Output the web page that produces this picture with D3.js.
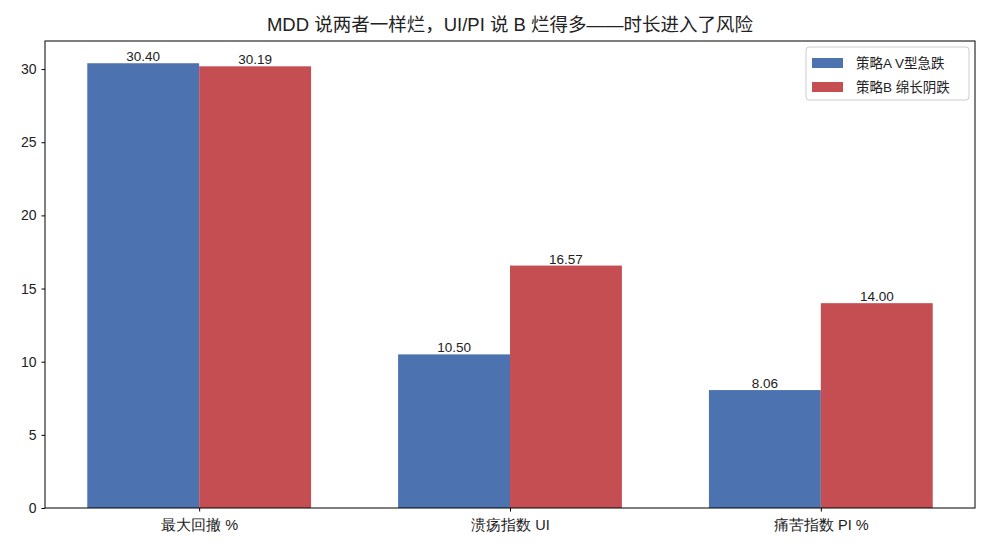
<!DOCTYPE html>
<html>
<head>
<meta charset="utf-8">
<script src="https://d3js.org/d3.v7.min.js"></script>
<style>
  body { margin: 0; background: white; }
  text { font-family: "Liberation Sans", "Noto Sans CJK SC", sans-serif; fill: #222; }
</style>
</head>
<body>
<svg id="chart"></svg>
<script>
// chart data
var categories = ["最大回撤 %", "溃疡指数 UI", "痛苦指数 PI %"];
var seriesNames = ["策略A V型急跌", "策略B 绵长阴跌"];
var seriesA = [30.40, 10.50, 8.06];
var seriesB = [30.19, 16.57, 14.00];
var yTicks = [0, 5, 10, 15, 20, 25, 30];
var colors = ["#4C72B0", "#C44E52"];

var width = 990, height = 550;
var margin = {left: 45, right: 15, top: 41, bottom: 42};
var barW = 0.36;

var svg = d3.select("#chart").attr("width", width).attr("height", height);

// linear x in category-index units, like matplotlib
var x = d3.scaleLinear()
  .domain([-barW - 0.136, 2 + barW + 0.136])
  .range([margin.left, width - margin.right]);
var y = d3.scaleLinear()
  .domain([0, 31.92])
  .range([height - margin.bottom, margin.top]);

var series = [seriesA, seriesB];
series.forEach(function(vals, s) {
  var g = svg.append("g");
  g.selectAll("rect")
    .data(vals)
    .enter().append("rect")
    .attr("x", function(d, i) { return x(s === 0 ? i - barW : i); })
    .attr("width", x(barW) - x(0))
    .attr("y", function(d) { return y(d); })
    .attr("height", function(d) { return y(0) - y(d); })
    .attr("fill", colors[s]);
  g.selectAll("text")
    .data(vals)
    .enter().append("text")
    .attr("x", function(d, i) { return x(s === 0 ? i - barW / 2 : i + barW / 2); })
    .attr("y", function(d) { return y(d) - 2; })
    .attr("text-anchor", "middle")
    .attr("font-size", "13.5px")
    .text(function(d) { return d.toFixed(2); });
});

// axes
var yAxis = d3.axisLeft(y).tickValues(yTicks).tickSize(3.5).tickPadding(5).tickFormat(d3.format("d"));
svg.append("g")
  .attr("transform", "translate(" + margin.left + ",0)")
  .call(yAxis)
  .call(function(g) { g.select(".domain").remove(); })
  .selectAll("text").attr("font-size", "14px").style("font-family", "inherit");

var xAxis = d3.axisBottom(x).tickValues([0, 1, 2]).tickSize(3.5).tickPadding(8)
  .tickFormat(function(d) { return categories[d]; });
svg.append("g")
  .attr("transform", "translate(0," + (height - margin.bottom) + ")")
  .call(xAxis)
  .call(function(g) { g.select(".domain").remove(); })
  .selectAll("text").attr("font-size", "14.5px").style("font-family", "inherit");

svg.selectAll(".tick line").attr("stroke", "#000");
svg.selectAll(".tick text").attr("fill", "#222");

// frame
svg.append("rect")
  .attr("x", margin.left)
  .attr("y", margin.top)
  .attr("width", width - margin.left - margin.right)
  .attr("height", height - margin.top - margin.bottom)
  .attr("fill", "none")
  .attr("stroke", "#000")
  .attr("stroke-width", 1);

// title
svg.append("text")
  .attr("x", (margin.left + width - margin.right) / 2)
  .attr("y", 31)
  .attr("text-anchor", "middle")
  .attr("font-size", "18.5px")
  .text("MDD 说两者一样烂，UI/PI 说 B 烂得多——时长进入了风险");

// legend
var lg = svg.append("g").attr("transform", "translate(806,47)");
lg.append("rect")
  .attr("width", 163).attr("height", 53)
  .attr("rx", 3)
  .attr("fill", "white").attr("fill-opacity", 0.8)
  .attr("stroke", "#ccc");
seriesNames.forEach(function(n, i) {
  lg.append("rect")
    .attr("x", 6).attr("y", 11 + i * 24)
    .attr("width", 31).attr("height", 10)
    .attr("fill", colors[i]);
  lg.append("text")
    .attr("x", 50).attr("y", 21 + i * 24)
    .attr("font-size", "13.5px")
    .text(n);
});
</script>
</body>
</html>
